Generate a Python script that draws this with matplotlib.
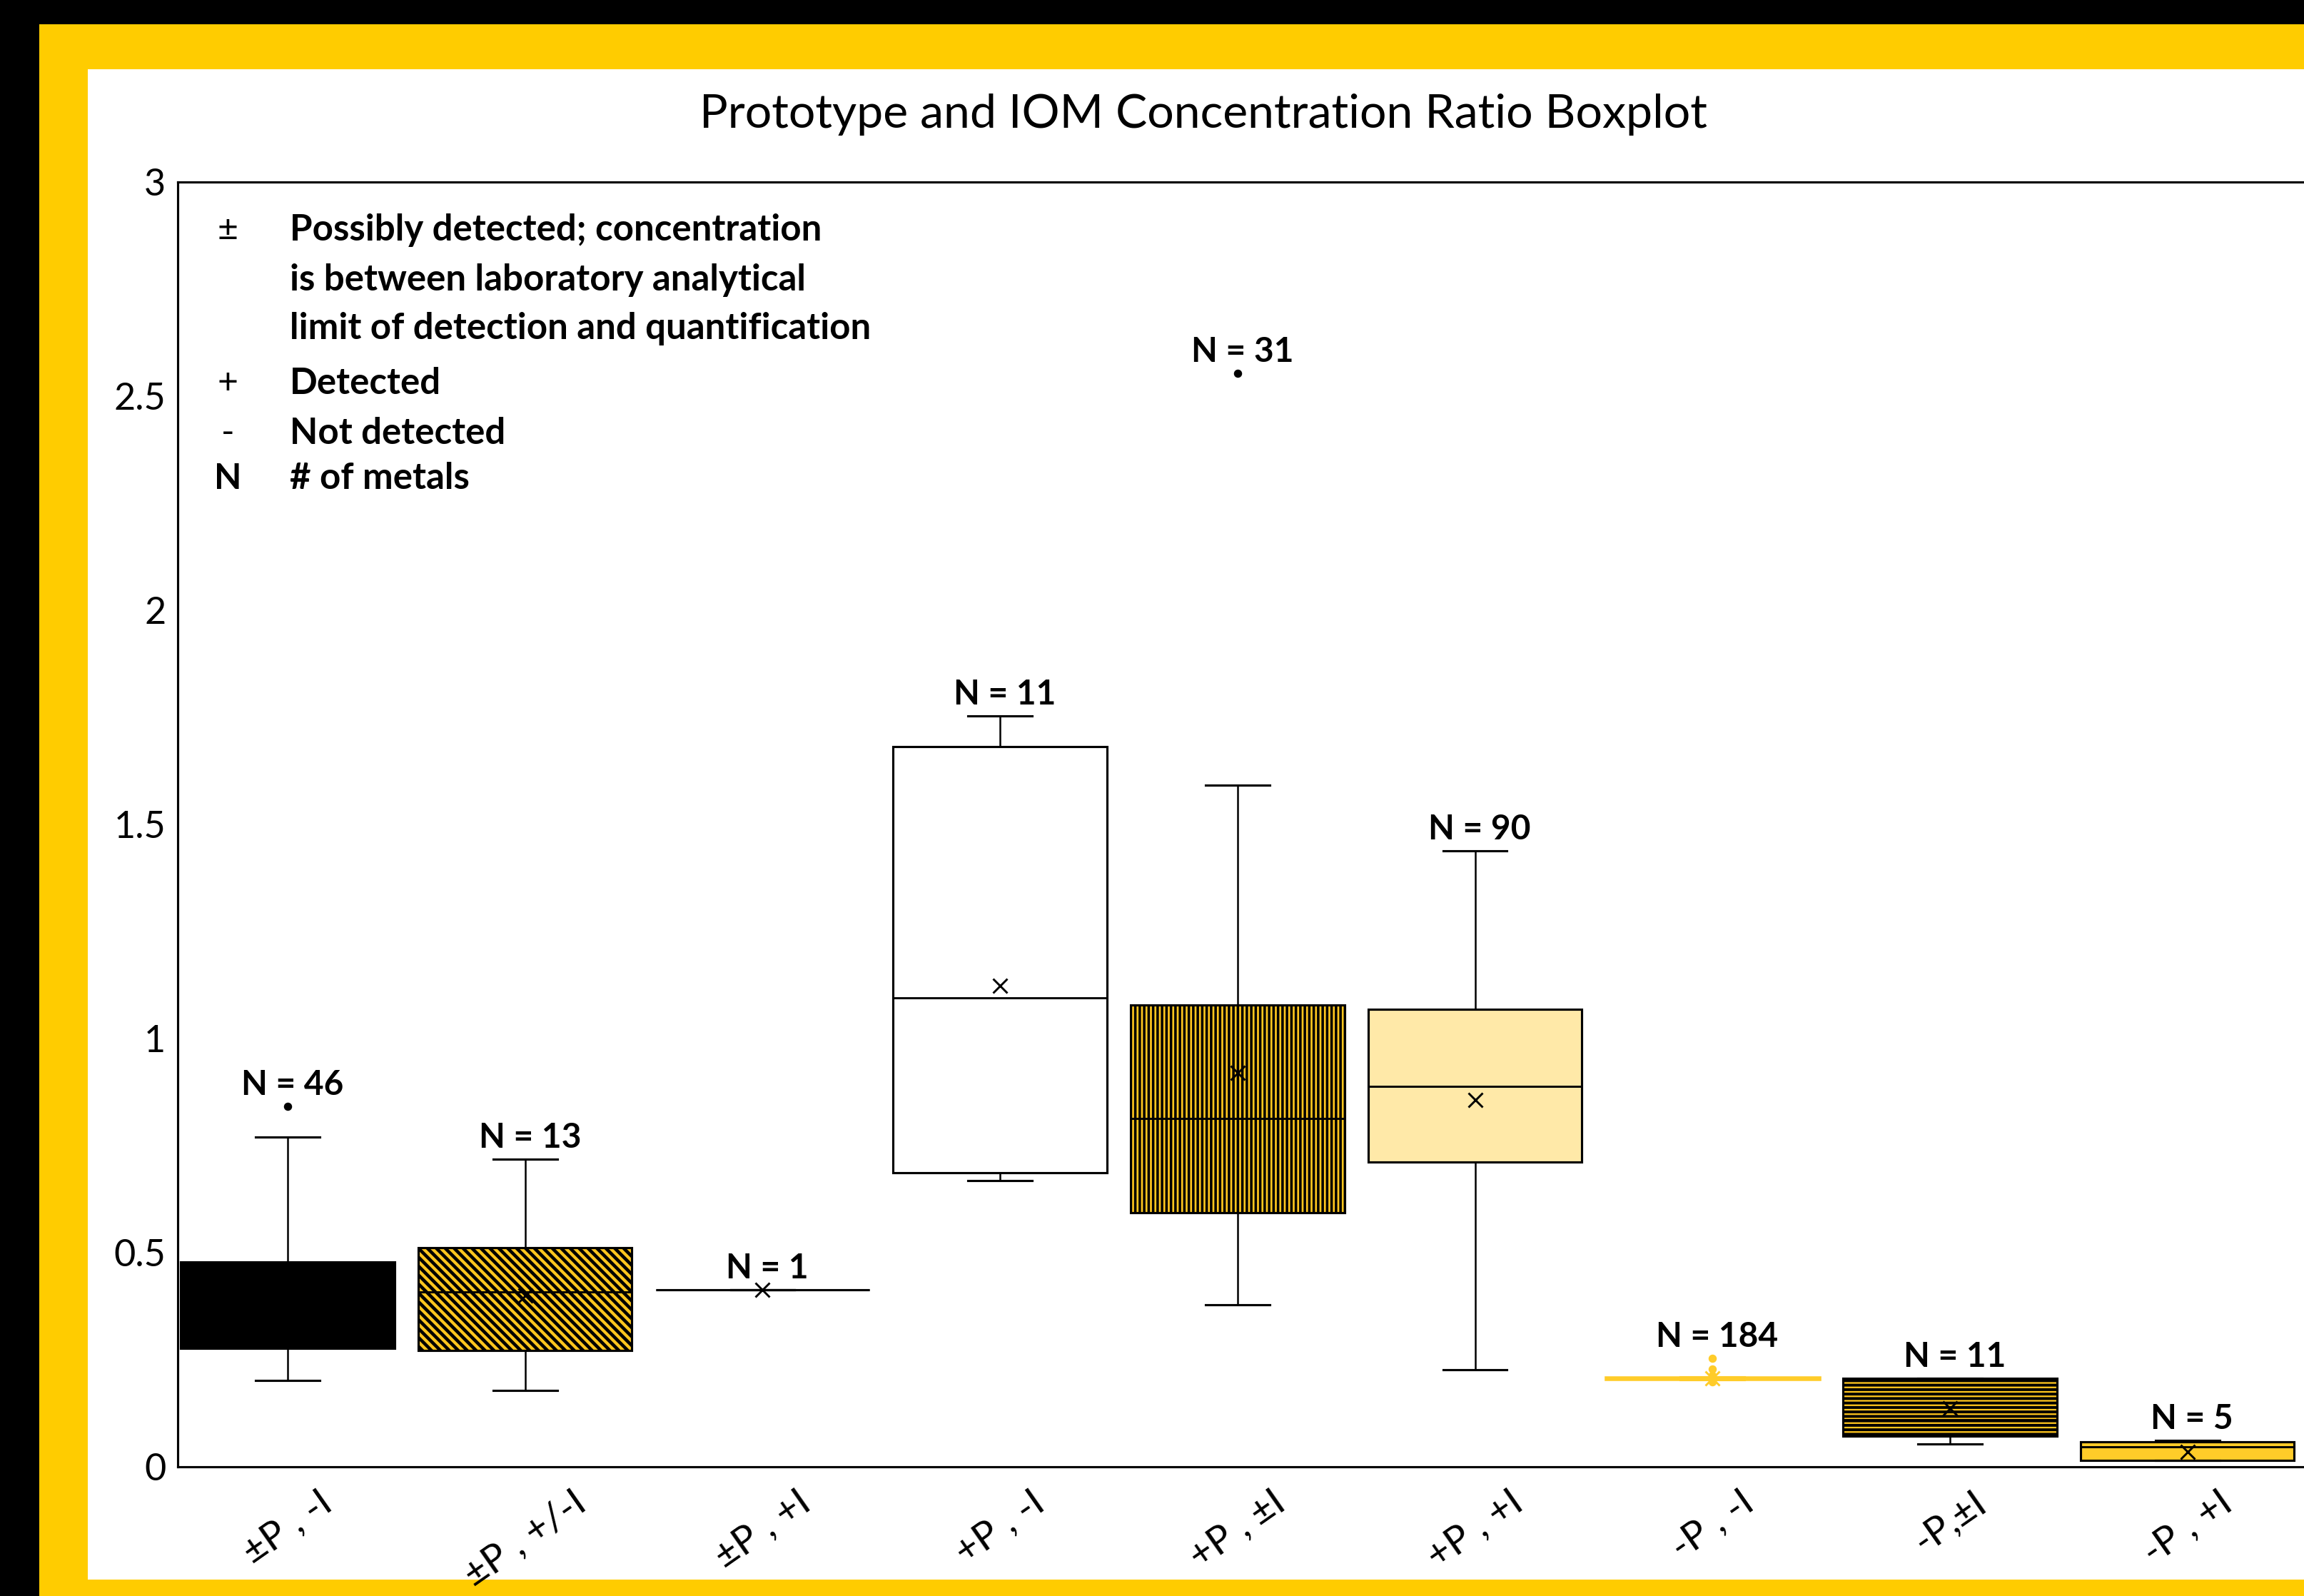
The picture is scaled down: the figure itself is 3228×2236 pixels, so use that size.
import matplotlib.pyplot as plt
from matplotlib.patches import Rectangle
from matplotlib.transforms import blended_transform_factory

plt.rcParams['font.family'] = ['Lato', 'DejaVu Sans']

# box plot statistics
categories = ['±P , -I', '±P , +/-I', '±P , +I', '+P , -I', '+P , ±I',
              '+P , +I', '-P , -I', '-P,±I', '-P , +I']
n_metals = [46, 13, 1, 11, 31, 90, 184, 11, 5]
whislo = [0.202, 0.178, 0.413, 0.669, 0.378, 0.227, 0.203, 0.054, 0.015]
q1 = [0.276, 0.272, 0.413, 0.687, 0.594, 0.711, 0.205, 0.072, 0.015]
median = [0.38, 0.409, 0.413, 1.095, 0.813, 0.888, 0.206, 0.110, 0.047]
q3 = [0.479, 0.512, 0.413, 1.682, 1.079, 1.068, 0.208, 0.207, 0.058]
whishi = [0.770, 0.719, 0.413, 1.754, 1.592, 1.439, 0.210, 0.207, 0.061]
means = [0.38, 0.40, 0.413, 1.123, 0.92, 0.857, 0.207, 0.136, 0.035]
fliers = [[0.842], [], [], [], [2.554], [], [0.253, 0.228, 0.214, 0.199], [], []]

legend_symbols = ['±', '', '', '+', '-', 'N']
legend_lines = ['Possibly detected; concentration',
                'is between laboratory analytical',
                'limit of detection and quantification',
                'Detected', 'Not detected', '# of metals']
legend_y = [2.887, 2.77, 2.657, 2.53, 2.413, 2.307]

# styles
YEL = '#FFCC00'
face_colors = ['black', '#FFC61E', 'white', 'white', '#FFC61E', '#FFE9A8', '#FFCC29', '#FFC61E', '#FFCC29']
edge_colors = ['black'] * 6 + ['#FFCC29'] + ['black'] * 2
hatches = [None, '\\\\\\\\', None, None, '||||', None, None, '----', None]
hatch_lw = [1, 2.2, 1, 1, 1.7, 1, 1, 1.9, 1]

W, H = 3228, 2236
fig = plt.figure(figsize=(W / 150, H / 150), dpi=150, facecolor='black')
fig.patches.append(Rectangle((55 / W, 0), 1, 1 - 34 / H, transform=fig.transFigure,
                             facecolor=YEL, edgecolor='none', zorder=-2))
fig.patches.append(Rectangle((123 / W, 1 - 2213 / H), 1, (2213 - 97) / H, transform=fig.transFigure,
                             facecolor='white', edgecolor='none', zorder=-1))

ax = fig.add_axes([249 / W, 1 - 2055 / H, 2982 / W, 1800 / H])
ax.set_facecolor('none')

stats = []
for i in range(len(categories)):
    stats.append(dict(med=median[i], q1=q1[i], q3=q3[i], whislo=whislo[i], whishi=whishi[i],
                      mean=means[i], fliers=fliers[i], label=categories[i]))

pos = list(range(1, len(categories) + 1))
bp = ax.bxp(stats, positions=pos, widths=0.9, capwidths=0.27, patch_artist=True,
            showmeans=True, manage_ticks=False,
            boxprops=dict(linewidth=1.5),
            whiskerprops=dict(linewidth=1.2, color='black'),
            capprops=dict(linewidth=1.5, color='black'),
            medianprops=dict(linewidth=1.4, color='black'),
            meanprops=dict(marker='x', markersize=10, markeredgecolor='black', markeredgewidth=1.4),
            flierprops=dict(marker='o', markersize=4.5, markerfacecolor='black', markeredgecolor='black'))

for i, box in enumerate(bp['boxes']):
    box.set_facecolor(face_colors[i])
    box.set_edgecolor(edge_colors[i])
    if hatches[i]:
        box.set_hatch(hatches[i])
        if hasattr(box, 'set_hatch_linewidth'):
            box.set_hatch_linewidth(hatch_lw[i])
    ec = edge_colors[i]
    for art in bp['whiskers'][2 * i:2 * i + 2] + bp['caps'][2 * i:2 * i + 2]:
        art.set_color(ec)
    bp['medians'][i].set_color(ec)
    bp['means'][i].set_markeredgecolor(ec)
    bp['fliers'][i].set_markerfacecolor(ec)
    bp['fliers'][i].set_markeredgecolor(ec)

# yellow group is drawn a bit heavier
bp['boxes'][6].set_linewidth(2.2)

# N labels above the highest mark of each box
for i, n in enumerate(n_metals):
    top = max([whishi[i]] + fliers[i])
    ax.text(pos[i] + 0.02, top + 0.05, f'N = {n}', ha='center', va='center',
            fontsize=23, fontweight='bold')

ax.set_xlim(0.537, 9.5)
ax.set_ylim(0, 3)
ax.set_yticks([0, 0.5, 1, 1.5, 2, 2.5, 3])
ax.set_yticklabels(['0', '0.5', '1', '1.5', '2', '2.5', '3'], fontsize=25)
ax.set_xticks(pos)
ax.set_xticklabels(categories, rotation=35, ha='center', fontsize=26)
ax.tick_params(axis='both', length=0)
ax.tick_params(axis='y', pad=8)
ax.tick_params(axis='x', pad=12)

for side in ['left', 'top', 'bottom']:
    ax.spines[side].set_linewidth(1.5)
ax.spines['right'].set_visible(False)

# key to the symbols
tr = blended_transform_factory(ax.transAxes, ax.transData)
for sym, line, y in zip(legend_symbols, legend_lines, legend_y):
    ax.text(0.0235, y, sym, transform=tr, ha='center', va='center', fontsize=24,
            fontweight='bold' if sym == 'N' else 'normal')
    ax.text(0.0527, y, line, transform=tr, ha='left', va='center', fontsize=24.5, fontweight='bold')

fig.text(1686 / W, 1 - 160 / H, 'Prototype and IOM Concentration Ratio Boxplot',
         ha='center', va='center', fontsize=31.8)

fig.savefig('out.png', dpi=150, facecolor='black')
